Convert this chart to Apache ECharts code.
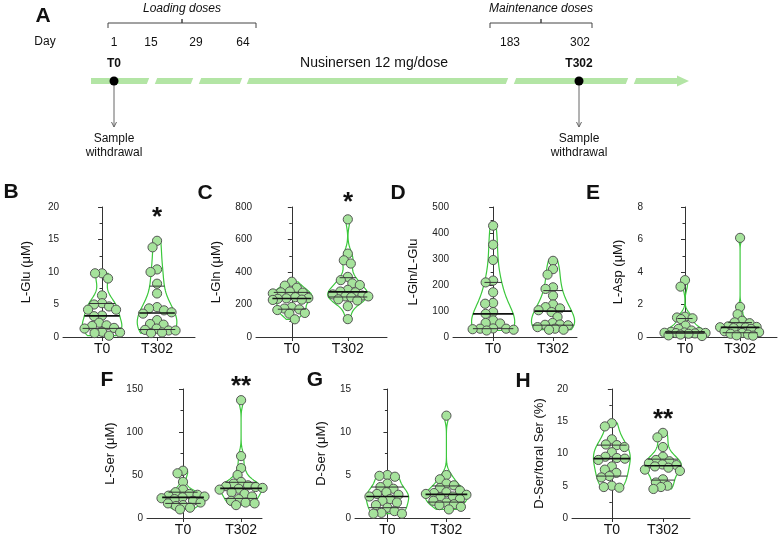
<!DOCTYPE html>
<html><head><meta charset="utf-8">
<script src="https://cdn.jsdelivr.net/npm/echarts@6/dist/echarts.min.js"></script>
<style>html,body{margin:0;padding:0;background:#fff}#c{width:780px;height:541px}</style>
</head><body><div id="c"></div>
<script>
// ---------- data ----------
const categories = ['T0', 'T302'];
const dayLabels = ['1', '15', '29', '64', '183', '302'];
const lGluT0 = [9.8, 9.8, 9.0, 6.4, 5.2, 5.0, 4.7, 4.2, 4.2, 3.3, 3.2, 2.2, 1.8, 1.7, 1.4, 1.3, 0.8, 0.7, 0.6, 0.2];
const lGluT302 = [14.8, 13.8, 10.4, 10.0, 8.2, 6.7, 4.6, 4.4, 4.1, 3.8, 3.6, 2.6, 2.0, 1.9, 1.3, 1.1, 1.0, 1.0, 0.7, 0.6];
const lGlnT0 = [340, 316, 303, 280, 275, 273, 268, 245, 240, 238, 235, 230, 228, 185, 175, 170, 166, 148, 144, 109];
const lGlnT302 = [724, 513, 472, 452, 370, 350, 330, 320, 290, 280, 275, 262, 255, 250, 250, 245, 232, 225, 190, 110];
const ratioT0 = [428, 355, 296, 217, 210, 172, 131, 128, 96, 89, 64, 54, 52, 33, 32, 32, 30, 28, 25];
const ratioT302 = [293, 261, 240, 191, 185, 159, 125, 115, 110, 103, 96, 77, 54, 48, 47, 45, 38, 32, 28, 28];
const lAspT0 = [3.5, 3.1, 1.25, 1.2, 1.15, 1.1, 0.7, 0.5, 0.4, 0.32, 0.3, 0.28, 0.26, 0.25, 0.24, 0.22, 0.2, 0.15, 0.1, 0.06];
const lAspT302 = [6.1, 1.85, 1.4, 1.0, 0.9, 0.85, 0.65, 0.62, 0.6, 0.6, 0.58, 0.55, 0.5, 0.35, 0.3, 0.25, 0.2, 0.15, 0.1, 0.08];
const lSerT0 = [55, 52, 42, 33, 30, 28, 27, 26, 25, 24, 23, 22, 20, 18, 17, 15, 14, 12, 10];
const lSerT302 = [137, 72, 58, 50, 42, 40, 38, 37, 36, 35, 34, 33, 30, 28, 25, 22, 20, 18, 17, 15];
const dSerT0 = [5.0, 4.9, 4.8, 4.0, 3.6, 3.4, 3.0, 2.8, 2.7, 2.5, 2.2, 2.0, 1.8, 1.5, 1.2, 0.8, 0.6, 0.5, 0.5];
const dSerT302 = [11.9, 5.0, 4.5, 4.0, 3.8, 3.5, 3.2, 3.0, 2.9, 2.8, 2.7, 2.5, 2.4, 2.2, 2.0, 1.8, 1.6, 1.5, 1.3, 1.0];
const dSerPctT0 = [14.7, 14.2, 12.2, 11.4, 11.3, 11.0, 10.2, 9.5, 9.3, 9.2, 9.0, 8.0, 7.5, 7.0, 6.5, 6.3, 5.0, 4.8, 4.7];
const dSerPctT302 = [13.2, 12.5, 11.0, 9.5, 9.0, 8.8, 8.5, 8.3, 8.2, 8.0, 7.8, 7.5, 7.3, 6.0, 5.5, 5.0, 4.8, 4.5];

// ---------- layout ----------
const FONT = "'Liberation Sans', Arial, sans-serif";
const GREEN = '#3cc83c';
const panels = [
  {name: 'L-Glu (\u03bcM)', d: [lGluT0, lGluT302], max: 20, iv: 5, l: 63, t: 207, w: 132, h: 130, xmin: -0.71, xmax: 1.69, ng: 30},
  {name: 'L-Gln (\u03bcM)', d: [lGlnT0, lGlnT302], max: 800, iv: 200, l: 256, t: 207, w: 131, h: 130, xmin: -0.64, xmax: 1.70, ng: 33},
  {name: 'L-Gln/L-Glu', d: [ratioT0, ratioT302], max: 500, iv: 100, l: 453, t: 207, w: 124, h: 130, xmin: -0.67, xmax: 1.40, ng: 33},
  {name: 'L-Asp (\u03bcM)', d: [lAspT0, lAspT302], max: 8, iv: 2, l: 647, t: 207, w: 130, h: 130, xmin: -0.69, xmax: 1.67, ng: 22},
  {name: 'L-Ser (\u03bcM)', d: [lSerT0, lSerT302], max: 150, iv: 50, l: 147, t: 389, w: 115, h: 129, xmin: -0.62, xmax: 1.36, ng: 30},
  {name: 'D-Ser (\u03bcM)', d: [dSerT0, dSerT302], max: 15, iv: 5, l: 355, t: 389, w: 115, h: 129, xmin: -0.55, xmax: 1.40, ng: 27},
  {name: 'D-Ser/toral Ser (%)', d: [dSerPctT0, dSerPctT302], max: 20, iv: 5, l: 572, t: 389, w: 118, h: 129, xmin: -0.78, xmax: 1.53, ng: 26}
];

function quant(s, p) { // (n+1)p method on sorted ascending
  const n = s.length; let pos = (n + 1) * p - 1;
  if (pos <= 0) return s[0]; if (pos >= n - 1) return s[n - 1];
  const lo = Math.floor(pos); return s[lo] + (pos - lo) * (s[lo + 1] - s[lo]);
}
function makeRender(p) {
  return function (params, api) {
    const gi = api.value(0);
    const vals = p.d[gi];
    const s = vals.slice().sort((a, b) => a - b);
    const n = s.length;
    const mean = s.reduce((a, b) => a + b, 0) / n;
    const sd = Math.sqrt(s.reduce((a, b) => a + (b - mean) * (b - mean), 0) / (n - 1));
    const iqr = quant(s, 0.75) - quant(s, 0.25);
    let bw = 0.9 * Math.min(sd, iqr > 0 ? iqr / 1.34 : sd) * Math.pow(n, -0.2);
    const dens = y => s.reduce((a, v) => a + Math.exp(-0.5 * ((y - v) / bw) ** 2), 0);
    const lo = s[0], hi = s[n - 1];
    const steps = 80; const ys = [];
    for (let k = 0; k <= steps; k++) ys.push(lo + (hi - lo) * k / steps);
    const ds = ys.map(dens); const maxD = Math.max(...ds);
    const cx = api.coord([gi, 0])[0];
    const unit = api.size([1, 0])[0];
    const halfW = 0.36 * unit;
    const widthAt = y => dens(y) / maxD * halfW;
    const right = ys.map((y, k) => [cx + ds[k] / maxD * halfW, api.coord([gi, y])[1]]);
    const left = ys.map((y, k) => [cx - ds[k] / maxD * halfW, api.coord([gi, y])[1]]).reverse();
    const children = [];
    children.push({type: 'polygon', shape: {points: right.concat(left)}, style: {fill: 'none', stroke: GREEN, lineWidth: 1.2}});
    // swarm, constrained to roughly the violin width
    const r = 4.6;
    const minD = 2 * r * 0.83;
    const py = vals.map(v => api.coord([gi, v])[1]);
    const order = py.map((_, i) => i).sort((a, b) => py[a] - py[b]);
    const placed = []; const xs = [];
    for (const i of order) {
      const lim = Math.max(widthAt(vals[i]) + 1, r);
      let off = null, bestO = 0, bestD = -1;
      for (let k = 0; k < 1000; k++) {
        const o = (k % 2 === 0 ? 1 : -1) * Math.ceil(k / 2) * 0.5;
        if (Math.abs(o) > lim) break;
        let md = Infinity;
        placed.forEach(q => { md = Math.min(md, Math.hypot(q[0] - o, q[1] - py[i])); });
        if (md >= minD) { off = o; break; }
        if (md > bestD + 0.01) { bestD = md; bestO = o; }
      }
      if (off === null) off = bestO;
      xs[i] = off; placed.push([off, py[i]]);
    }
    vals.forEach((v, i) => {
      children.push({type: 'circle', shape: {cx: cx + xs[i], cy: py[i], r: r}, style: {fill: '#a6e39c', stroke: '#555', lineWidth: 1}});
    });
    [[0.25, '#333', 1], [0.75, '#333', 1], [0.5, '#111', 1.6]].forEach(([q, c, lw]) => {
      const y = quant(s, q); const w = widthAt(y); const yp = api.coord([gi, y])[1];
      children.push({type: 'line', shape: {x1: cx - w, y1: yp, x2: cx + w, y2: yp}, style: {stroke: c, lineWidth: lw}});
    });
    return {type: 'group', children};
  };
}

const grid = [], xAxis = [], yAxis = [], series = [];
panels.forEach((p, i) => {
  grid.push({left: p.l, top: p.t, width: p.w, height: p.h});
  xAxis.push({type: 'value', gridIndex: i, min: p.xmin, max: p.xmax,
    axisLine: {show: true, onZero: false, lineStyle: {color: '#333', width: 1}},
    axisTick: {show: true, customValues: [0, 1], length: 4, lineStyle: {color: '#333'}},
    axisLabel: {customValues: [0, 1], formatter: v => categories[Math.round(v)], fontSize: 14, color: '#111', margin: 5, fontFamily: FONT},
    splitLine: {show: false}});
  yAxis.push({type: 'value', gridIndex: i, min: 0, max: p.max, interval: p.iv,
    name: p.name, nameLocation: 'middle', nameGap: p.ng, nameTextStyle: {fontSize: 13, color: '#111', fontFamily: FONT},
    axisLine: {show: true, lineStyle: {color: '#333'}},
    axisTick: {show: true, length: 4, lineStyle: {color: '#333'}},
    minorTick: {show: true, splitNumber: 2, length: 2.5, lineStyle: {color: '#333'}},
    axisLabel: {fontSize: 10, color: '#222', margin: 4, fontFamily: FONT},
    splitLine: {show: false}, minorSplitLine: {show: false}});
  series.push({type: 'custom', xAxisIndex: i, yAxisIndex: i, data: [[0, 0], [1, 0]], encode: {x: 0, y: 1},
    renderItem: makeRender(p), clip: false, silent: true, animation: false, z: 5});
});

// ---------- panel A schematic & annotations ----------
function txt(x, y, t, font, align, va) {
  return {type: 'text', silent: true, style: {text: t, x: x, y: y, font: font, fill: '#111', textAlign: align || 'center', textVerticalAlign: va || 'middle'}};
}
const G = [];
const BAR = '#b3e5a5';
const segs = [[91, 148], [156, 192], [200, 241], [248, 507], [515, 627], [635, 678]];
segs.forEach(([a, b], k) => {
  const sa = k === 0 ? 0 : 1.2, sb = 1.2;
  G.push({type: 'polygon', silent: true, shape: {points: [[a + sa, 78], [b + sb, 78], [b - sb, 84], [a - sa, 84]]}, style: {fill: BAR}});
});
G.push({type: 'polygon', silent: true, shape: {points: [[677, 75.5], [689, 81], [677, 86.5]]}, style: {fill: BAR}});
const dayX = [114, 151, 196, 243, 510, 580];
dayLabels.forEach((d, i) => G.push(txt(dayX[i], 43, d, '12px ' + FONT)));
G.push(txt(45, 42, 'Day', '12px ' + FONT));
G.push(txt(182, 9, 'Loading doses', 'italic 12px ' + FONT));
G.push(txt(541, 9, 'Maintenance doses', 'italic 12px ' + FONT));
[[108, 182, 256], [490, 541, 592]].forEach(([a, c, b]) => {
  G.push({type: 'polyline', silent: true, shape: {points: [[a, 28], [a, 23], [c, 23], [c, 19], [c, 23], [b, 23], [b, 28]]}, style: {stroke: '#444', lineWidth: 1, fill: 'none'}});
});
G.push(txt(114, 64, 'T0', 'bold 12px ' + FONT));
G.push(txt(579, 64, 'T302', 'bold 12px ' + FONT));
G.push(txt(374, 63, 'Nusinersen 12 mg/dose', '14px ' + FONT));
[114, 579].forEach(x => {
  G.push({type: 'line', silent: true, shape: {x1: x, y1: 84, x2: x, y2: 127}, style: {stroke: '#666', lineWidth: 1}});
  G.push({type: 'polyline', silent: true, shape: {points: [[x - 2.5, 122], [x, 127], [x + 2.5, 122]]}, style: {stroke: '#666', lineWidth: 1, fill: 'none'}});
  G.push({type: 'circle', silent: true, shape: {cx: x, cy: 81, r: 4.5}, style: {fill: '#000'}});
  G.push(txt(x, 139, 'Sample', '12px ' + FONT));
  G.push(txt(x, 153, 'withdrawal', '12px ' + FONT));
});
const letters = [['A', 43, 16], ['B', 11, 192], ['C', 205, 193], ['D', 398, 193], ['E', 593, 193], ['F', 107, 380], ['G', 315, 380], ['H', 523, 381]];
letters.forEach(([l, x, y]) => G.push(txt(x, y, l, 'bold 21px ' + FONT)));
const stars = [['*', 157, 218], ['*', 348, 203], ['**', 241, 387], ['**', 663, 420]];
stars.forEach(([s, x, y]) => G.push(txt(x, y, s, 'bold 26px ' + FONT)));

const chart = echarts.init(document.getElementById('c'), null, {renderer: 'canvas'});
chart.setOption({animation: false, backgroundColor: '#fff', grid, xAxis, yAxis, series, graphic: {elements: G}});
</script>
</body></html>
